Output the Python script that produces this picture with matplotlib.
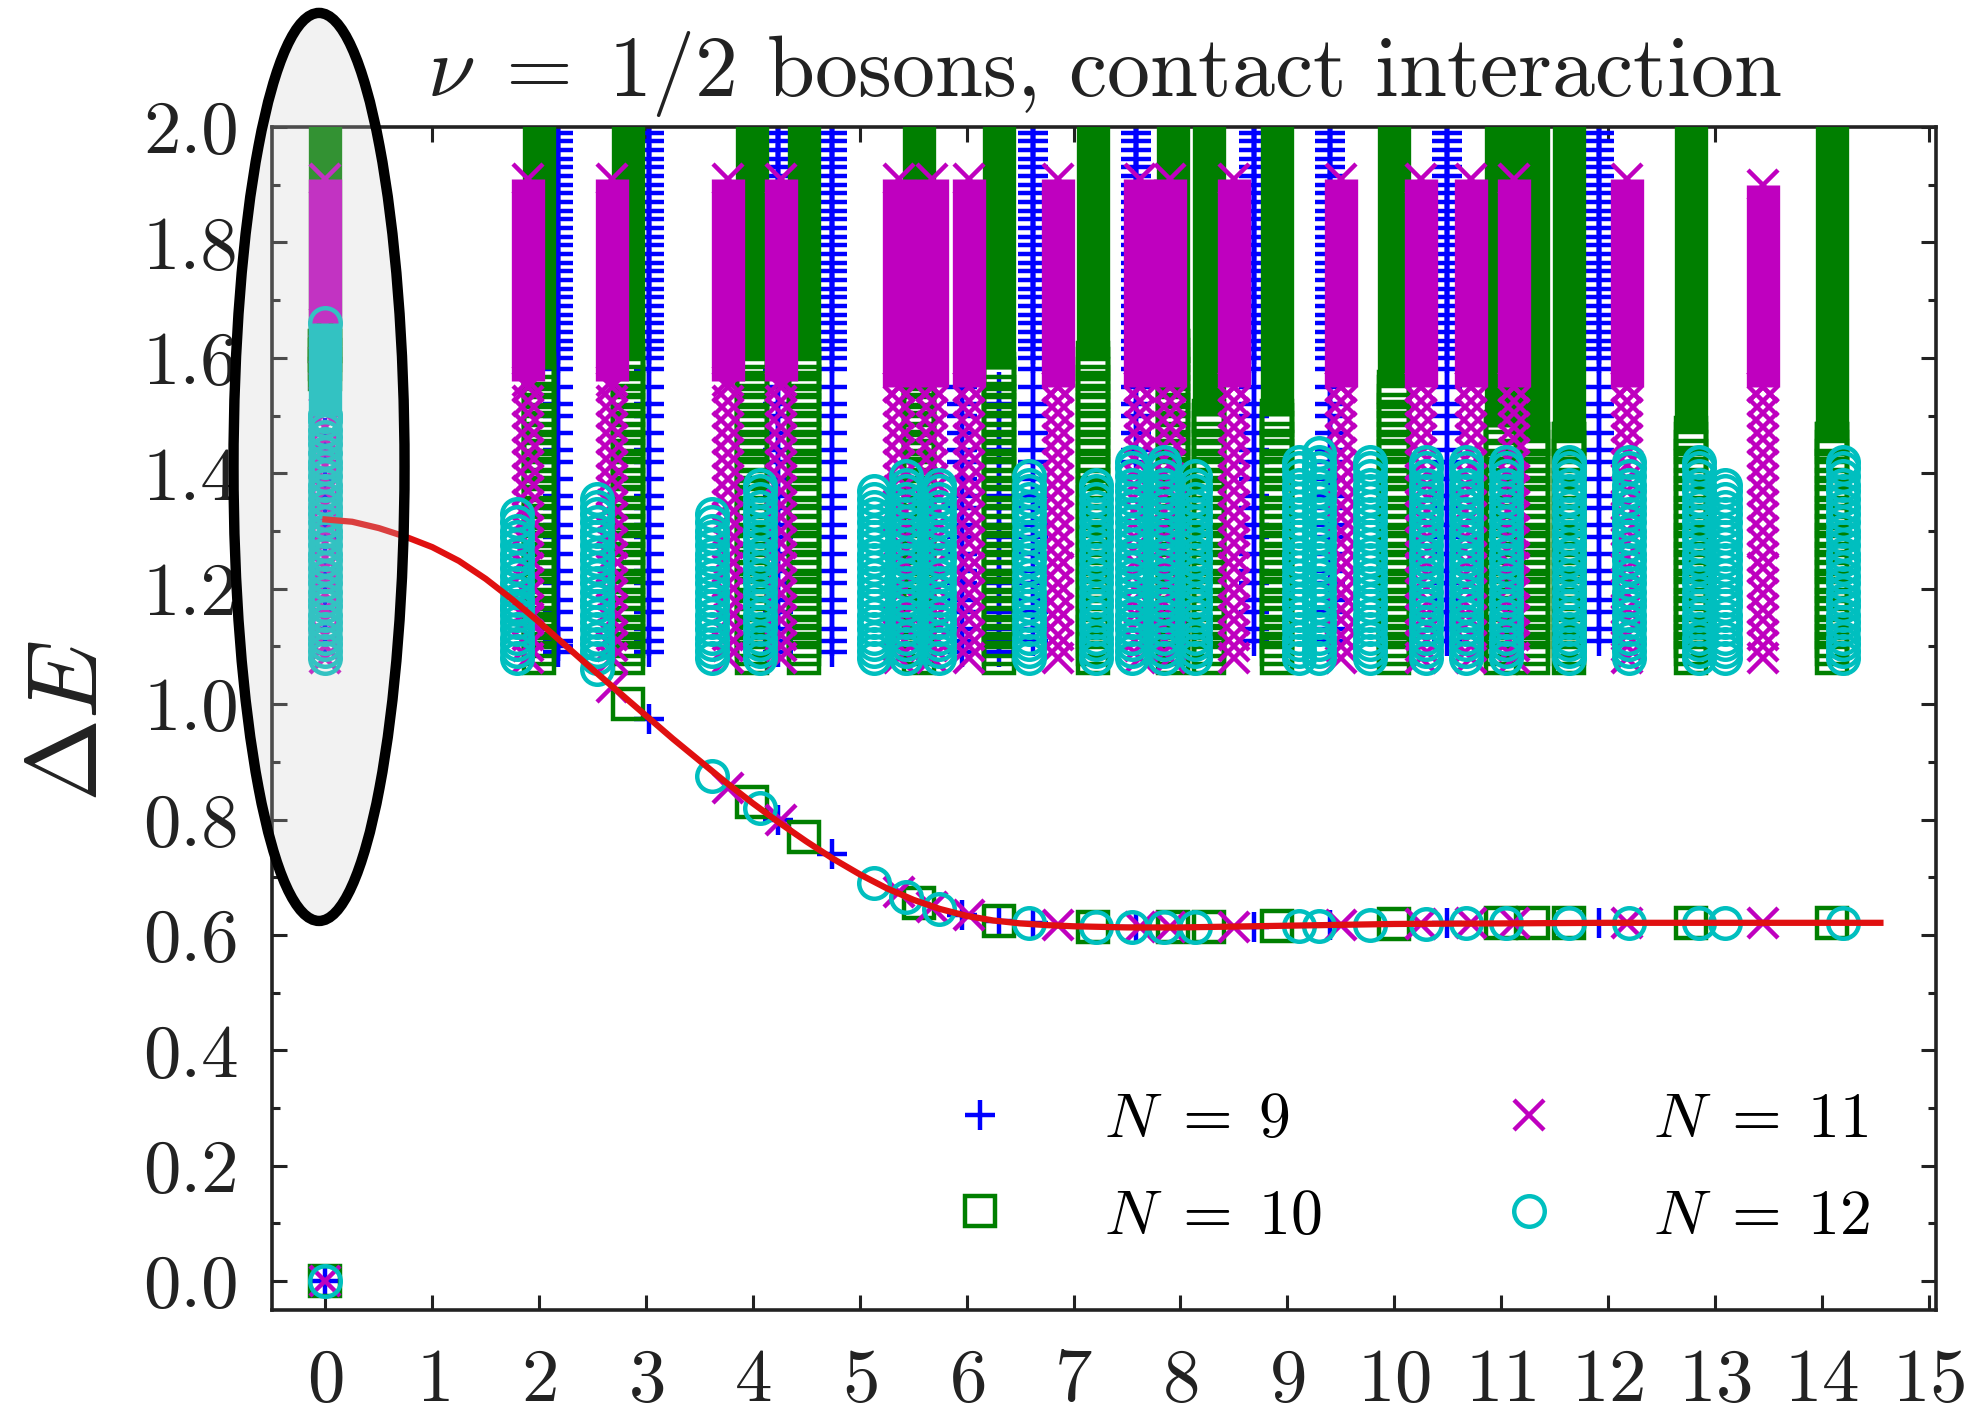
import numpy as np
import matplotlib
matplotlib.use('Agg')
import matplotlib.pyplot as plt
from matplotlib.patches import Ellipse
from matplotlib.ticker import MultipleLocator, FormatStrFormatter

plt.rcParams['font.family'] = 'serif'
plt.rcParams['font.serif'] = ['cmr10']
plt.rcParams['mathtext.fontset'] = 'cm'
plt.rcParams['axes.formatter.use_mathtext'] = True

nan = np.nan

# momentum columns, lowest (magnetoroton) level, and the continuum per column
# N = 9
k_N9 = [0.0, 2.18, 3.03, 4.23, 4.74, 5.96, 6.30, 6.62, 7.58, 8.69, 9.40, 10.49, 11.92]
low_N9 = [0.0, 1.10, 0.975, 0.80, 0.74, 0.635, 0.625, 0.62, 0.613, 0.614, 0.617, 0.62, 0.621]
start_N9 = [1.10, 1.09, 1.09, 1.09, 1.09, 1.09, 1.09, 1.10, 1.42, 1.10, 1.10, 1.10, 1.10]
solid_N9 = [nan] * 13
top_N9 = [1.48, 2.05, 2.05, 2.05, 2.05, 1.56, 1.56, 2.05, 2.05, 2.05, 2.05, 2.05, 2.05]

# N = 10
k_N10 = [0.0, 2.00, 2.83, 3.99, 4.48, 5.55, 6.30, 7.18, 7.93, 8.27, 8.90, 10.00, 11.00,
         11.30, 11.64, 12.78, 14.10]
low_N10 = [0.0, 1.13, 1.00, 0.83, 0.77, 0.655, 0.625, 0.614, 0.613, 0.613, 0.615, 0.619,
           0.62, 0.62, 0.621, 0.621, 0.621]
start_N10 = [1.56, 1.08, 1.08, 1.08, 1.08, 1.08, 1.08, 1.08, 1.08, 1.08, 1.08, 1.08, 1.08,
             1.08, 1.08, 1.08, 1.08]
solid_N10 = [1.62, 1.58, 1.60, 1.60, 1.60, 1.58, 1.58, 1.60, 1.62, 1.50, 1.50, 1.55, 1.48,
             1.46, 1.46, 1.47, 1.46]
top_N10 = [2.10] * 17

# N = 11
k_N11 = [0.0, 1.90, 2.68, 3.77, 4.26, 5.37, 5.68, 6.02, 6.85, 7.62, 7.90, 8.50, 9.50,
         10.25, 10.72, 11.12, 12.18, 13.45]
low_N11 = [0.0, 1.15, 1.03, 0.855, 0.80, 0.675, 0.648, 0.635, 0.617, 0.613, 0.613, 0.614,
           0.618, 0.619, 0.62, 0.62, 0.621, 0.621]
start_N11 = [1.08] * 18
solid_N11 = [1.66, 1.56, 1.56, 1.56, 1.56, 1.55, 1.55, 1.55, 1.55, 1.55, 1.55, 1.55, 1.55,
             1.55, 1.55, 1.55, 1.55, 1.55]
top_N11 = [1.91, 1.91, 1.91, 1.91, 1.91, 1.91, 1.91, 1.91, 1.91, 1.91, 1.91, 1.91, 1.91,
           1.91, 1.91, 1.91, 1.91, 1.90]

# N = 12
k_N12 = [0.0, 1.79, 2.54, 3.62, 4.07, 5.13, 5.43, 5.74, 6.58, 7.21, 7.55, 7.85, 8.14,
         9.11, 9.30, 9.77, 10.30, 10.67, 11.05, 11.64, 12.20, 12.85, 13.10, 14.20]
low_N12 = [0.0, 1.165, 1.06, 0.875, 0.82, 0.69, 0.665, 0.645, 0.62, 0.614, 0.613, 0.613,
           0.613, 0.615, 0.616, 0.618, 0.619, 0.62, 0.62, 0.621, 0.621, 0.621, 0.621, 0.621]
start_N12 = [1.08] * 24
solid_N12 = [1.50] + [nan] * 23
top_N12 = [1.66, 1.33, 1.36, 1.33, 1.39, 1.37, 1.40, 1.38, 1.40, 1.38, 1.42, 1.42, 1.40,
           1.42, 1.44, 1.42, 1.43, 1.42, 1.42, 1.42, 1.43, 1.42, 1.38, 1.42]

# excited levels inside a column (below the point where the column turns solid)
lev_N9 = [1.09, 1.11, 1.13, 1.16, 1.18, 1.21, 1.23, 1.26, 1.29, 1.31, 1.34, 1.36, 1.39,
          1.42, 1.44, 1.47, 1.50, 1.52, 1.55, 1.58, 1.60, 1.615, 1.63, 1.645, 1.66, 1.675,
          1.69, 1.705, 1.72, 1.735, 1.75, 1.765, 1.78, 1.795, 1.81, 1.825, 1.84, 1.855,
          1.87, 1.885, 1.90, 1.915, 1.93, 1.945, 1.96, 1.975, 1.99, 2.005, 2.02, 2.04]
lev_N10 = [1.08, 1.095, 1.11, 1.125, 1.14, 1.158, 1.172, 1.19, 1.205, 1.22, 1.238, 1.252,
           1.27, 1.285, 1.30, 1.318, 1.332, 1.35, 1.365, 1.38, 1.398, 1.412, 1.43, 1.445,
           1.46, 1.478, 1.492, 1.51, 1.525, 1.54, 1.558, 1.572, 1.59, 1.605, 1.62]
lev_N11 = [1.08, 1.10, 1.12, 1.145, 1.165, 1.19, 1.21, 1.235, 1.255, 1.28, 1.30, 1.325,
           1.345, 1.37, 1.39, 1.415, 1.435, 1.46, 1.48, 1.505, 1.525, 1.55, 1.57, 1.595,
           1.615, 1.64]
lev_N12 = [1.08, 1.092, 1.105, 1.115, 1.13, 1.142, 1.155, 1.17, 1.18, 1.195, 1.21, 1.222,
           1.235, 1.25, 1.26, 1.275, 1.29, 1.30, 1.315, 1.33, 1.342, 1.355, 1.37, 1.38,
           1.395, 1.41, 1.42, 1.435, 1.45, 1.462, 1.475, 1.49, 1.50]

# fit through the magnetoroton branch
fit_k = [0.0, 0.25, 0.5, 0.75, 1.0, 1.25, 1.5, 1.75, 2.0, 2.25, 2.5, 2.75, 3.0, 3.25, 3.5,
         3.75, 4.0, 4.25, 4.5, 4.75, 5.0, 5.25, 5.5, 5.75, 6.0, 6.25, 6.5, 6.75, 7.0, 7.5,
         8.0, 9.0, 10.0, 11.0, 12.0, 13.0, 14.0, 14.55]
fit_E = [1.320, 1.316, 1.305, 1.290, 1.272, 1.248, 1.217, 1.181, 1.142, 1.101, 1.060, 1.020,
         0.980, 0.940, 0.902, 0.864, 0.828, 0.794, 0.762, 0.732, 0.705, 0.681, 0.661, 0.645,
         0.633, 0.625, 0.620, 0.617, 0.615, 0.613, 0.613, 0.616, 0.619, 0.620, 0.621, 0.621,
         0.621, 0.621]

labels = [r'$N\;=\;9$', r'$N\;=\;10$', r'$N\;=\;11$', r'$N\;=\;12$']

MS = 22
MEW = 3.2


def draw_series(ax, k, low, start, solid, top, levels, marker, color, z):
    xs, ys = list(k), list(low)
    for x, s, d, t in zip(k, start, solid, top):
        upper = t if np.isnan(d) else d
        for e in levels:
            if s <= e <= upper:
                xs.append(x)
                ys.append(e)
        if not np.isnan(d):
            ax.vlines(x, d, t, colors=color, lw=MS + 2, zorder=z, capstyle='butt')
            xs += [x, x]
            ys += [d, t]
    line, = ax.plot(xs, ys, ls='none', marker=marker, ms=MS, mew=MEW, mfc='none',
                    mec=color, zorder=z)
    return line


fig = plt.figure(figsize=(19.84, 14.21), dpi=100)
ax = fig.add_axes([0.1371, 0.0781, 0.8387, 0.8325])

h9 = draw_series(ax, k_N9, low_N9, start_N9, solid_N9, top_N9, lev_N9, '+', '#0000ff', 2)
h10 = draw_series(ax, k_N10, low_N10, start_N10, solid_N10, top_N10, lev_N10, 's', '#007f00', 3)
h11 = draw_series(ax, k_N11, low_N11, start_N11, solid_N11, top_N11, lev_N11, 'x', '#bf00bf', 4)
h12 = draw_series(ax, k_N12, low_N12, start_N12, solid_N12, top_N12, lev_N12, 'o', '#00bfbf', 5)

ax.plot(fit_k, fit_E, color='#e01010', lw=4.5, zorder=6)

ax.set_xlim(-0.5, 15.07)
ax.set_ylim(-0.05, 2.0)
ax.xaxis.set_major_locator(MultipleLocator(1))
ax.yaxis.set_major_locator(MultipleLocator(0.2))
ax.yaxis.set_minor_locator(MultipleLocator(0.1))
ax.yaxis.set_major_formatter(FormatStrFormatter('%.1f'))
ax.tick_params(which='both', direction='in', top=True, right=True, width=2.2,
               labelsize=54, colors='#222222')
ax.tick_params(which='major', length=11)
ax.tick_params(which='minor', length=6)
ax.tick_params(axis='x', pad=28)
ax.tick_params(axis='y', pad=24)
for sp in ax.spines.values():
    sp.set_linewidth(2.6)
    sp.set_color('#222222')

ax.set_title(r'$\nu\;=\;1/2$ bosons, contact interaction', fontsize=62, pad=22,
             color='#222222')
fig.text(0.036, 0.4926, r'$\Delta E$', rotation=90, fontsize=72, ha='center',
         va='center', color='#222222')

ax.legend([h9, h10, h11, h12], labels, ncol=2, loc='lower right',
          bbox_to_anchor=(0.995, 0.005), frameon=False, fontsize=46,
          handlelength=1.0, handletextpad=1.44, columnspacing=2.74, labelspacing=0.6)

# highlight around the k = 0 column
fig.add_artist(Ellipse((0.1608, 0.6714), 0.0862, 0.639, transform=fig.transFigure,
                       facecolor=(0.80, 0.80, 0.80, 0.25), edgecolor='black',
                       lw=7.5, zorder=10))

fig.savefig('out.png', dpi=100)
